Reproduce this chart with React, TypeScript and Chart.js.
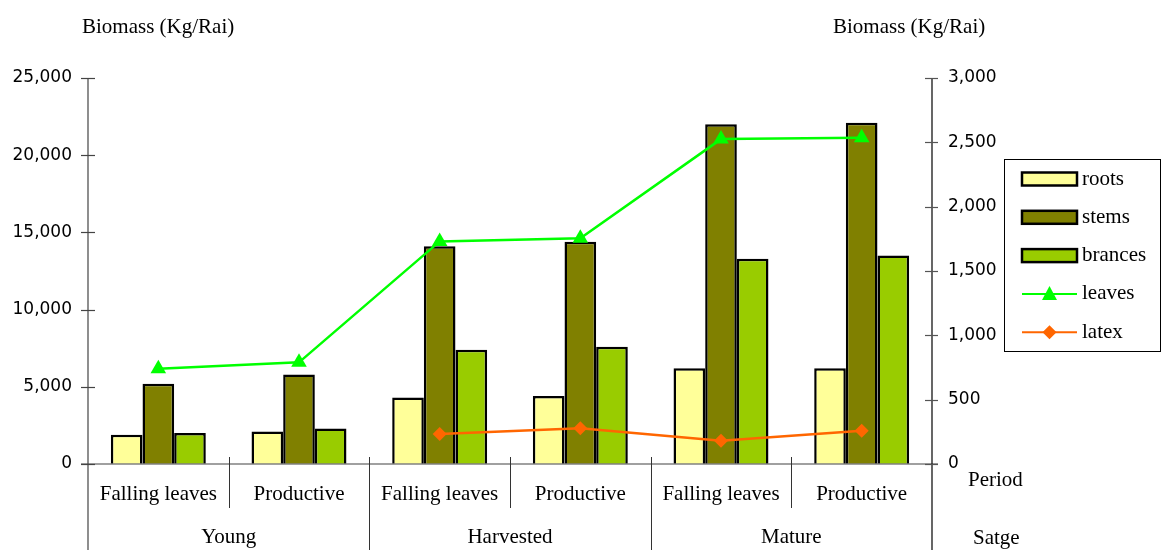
import React, { useEffect, useRef } from "react";
import { Chart, registerables } from "chart.js";

Chart.register(...registerables);

const periods = ["Falling leaves", "Productive", "Falling leaves", "Productive", "Falling leaves", "Productive"];
const stages = ["Young", "Harvested", "Mature"];
const roots = [1900, 2100, 4300, 4400, 6200, 6200];
const stems = [5200, 5800, 14100, 14400, 22000, 22100];
const brances = [2000, 2300, 7400, 7600, 13300, 13500];
const leaves = [740, 790, 1730, 1755, 2525, 2535];
const latex = [null, null, 233, 277, 181, 259];
const leftTicks = [0, 5000, 10000, 15000, 20000, 25000];
const rightTicks = [0, 500, 1000, 1500, 2000, 2500, 3000];

const SERIF = "'Liberation Serif', 'Times New Roman', serif";
const SANS = "'DejaVu Sans', sans-serif";

const legendItems = [
  { label: "roots", type: "bar", color: "#FFFF99" },
  { label: "stems", type: "bar", color: "#808000" },
  { label: "brances", type: "bar", color: "#99CC00" },
  { label: "leaves", type: "line", color: "#00FF00", marker: "triangle" },
  { label: "latex", type: "line", color: "#FF6600", marker: "diamond" },
];

const fmt = (v: number) => v.toLocaleString("en-US");

const overlayPlugin = {
  id: "overlay",
  afterDraw(chart: any) {
    const { ctx, chartArea: ca, scales } = chart;
    const xs = scales.x;
    const yl = scales.y;
    const yr = scales.y1;
    const bottomY = 550;
    ctx.save();
    // bottom axis line
    ctx.strokeStyle = "#808080";
    ctx.lineWidth = 1.5;
    ctx.beginPath();
    ctx.moveTo(ca.left - 7, ca.bottom);
    ctx.lineTo(ca.right + 6, ca.bottom);
    ctx.stroke();
    // left axis
    ctx.strokeStyle = "#444";
    ctx.lineWidth = 1.2;
    ctx.beginPath();
    ctx.moveTo(ca.left, ca.top);
    ctx.lineTo(ca.left, bottomY);
    ctx.stroke();
    leftTicks.forEach((t) => {
      const py = Math.round(yl.getPixelForValue(t)) + 0.5;
      ctx.beginPath();
      ctx.moveTo(ca.left - 7, py);
      ctx.lineTo(ca.left + 7, py);
      ctx.stroke();
    });
    // right axis
    ctx.strokeStyle = "#000";
    ctx.beginPath();
    ctx.moveTo(ca.right, ca.top);
    ctx.lineTo(ca.right, bottomY);
    ctx.stroke();
    ctx.strokeStyle = "#555";
    rightTicks.forEach((t) => {
      const py = Math.round(yr.getPixelForValue(t)) + 0.5;
      ctx.beginPath();
      ctx.moveTo(ca.right - 7, py);
      ctx.lineTo(ca.right + 6, py);
      ctx.stroke();
    });
    // separators
    ctx.strokeStyle = "#333";
    ctx.lineWidth = 1;
    for (let i = 0; i < periods.length - 1; i++) {
      const bx = Math.round((xs.getPixelForValue(i) + xs.getPixelForValue(i + 1)) / 2) + 0.5;
      const isGroup = i % 2 === 1;
      ctx.beginPath();
      ctx.moveTo(bx, ca.bottom - 7);
      ctx.lineTo(bx, isGroup ? bottomY : ca.bottom + 44);
      ctx.stroke();
    }
    // texts
    ctx.fillStyle = "#000";
    ctx.font = `21px ${SERIF}`;
    ctx.textBaseline = "middle";
    ctx.textAlign = "left";
    ctx.fillText("Biomass (Kg/Rai)", 82, 27);
    ctx.fillText("Biomass (Kg/Rai)", 833, 27);
    ctx.fillText("Period", 968, 480);
    ctx.fillText("Satge", 973, 538);
    // legend
    const lx = 1004, ly = 159, lw = 156, lh = 192;
    ctx.strokeStyle = "#000";
    ctx.lineWidth = 1;
    ctx.strokeRect(lx + 0.5, ly + 0.5, lw, lh);
    legendItems.forEach((it, i) => {
      const cy = 179 + i * 38.3;
      if (it.type === "bar") {
        ctx.fillStyle = it.color;
        ctx.fillRect(1022, cy - 6.5, 55, 13);
        ctx.strokeStyle = "#000";
        ctx.lineWidth = 2.5;
        ctx.strokeRect(1022, cy - 6.5, 55, 13);
      } else {
        ctx.strokeStyle = it.color;
        ctx.lineWidth = 2;
        ctx.beginPath();
        ctx.moveTo(1022, cy);
        ctx.lineTo(1077, cy);
        ctx.stroke();
        ctx.fillStyle = it.color;
        ctx.beginPath();
        if (it.marker === "triangle") {
          ctx.moveTo(1049.5, cy - 8);
          ctx.lineTo(1057, cy + 6);
          ctx.lineTo(1042, cy + 6);
        } else {
          ctx.moveTo(1049.5, cy - 7);
          ctx.lineTo(1056.5, cy);
          ctx.lineTo(1049.5, cy + 7);
          ctx.lineTo(1042.5, cy);
        }
        ctx.closePath();
        ctx.fill();
      }
      ctx.fillStyle = "#000";
      ctx.font = `21px ${SERIF}`;
      ctx.textAlign = "left";
      ctx.textBaseline = "middle";
      ctx.fillText(it.label, 1082, cy);
    });
    ctx.restore();
  },
};

export default function App() {
  const ref = useRef<HTMLCanvasElement | null>(null);
  useEffect(() => {
    if (!ref.current) return;
    const barCommon = {
      type: "bar" as const,
      borderColor: "#000",
      borderWidth: 2.5,
      yAxisID: "y",
      xAxisID: "x",
      categoryPercentage: 0.675,
      barPercentage: 1,
      order: 1,
    };
    const chart = new Chart(ref.current, {
      type: "bar",
      data: {
        labels: periods,
        datasets: [
          { ...barCommon, label: "roots", data: roots, backgroundColor: "#FFFF99" },
          { ...barCommon, label: "stems", data: stems, backgroundColor: "#808000" },
          { ...barCommon, label: "brances", data: brances, backgroundColor: "#99CC00" },
          {
            type: "line",
            label: "leaves",
            data: leaves,
            yAxisID: "y1",
            xAxisID: "x",
            borderColor: "#00FF00",
            backgroundColor: "#00FF00",
            borderWidth: 2.5,
            pointStyle: "triangle",
            pointRadius: 9,
            pointBorderWidth: 0,
            tension: 0,
            order: 0,
          },
          {
            type: "line",
            label: "latex",
            data: latex,
            yAxisID: "y1",
            xAxisID: "x",
            borderColor: "#FF6600",
            backgroundColor: "#FF6600",
            borderWidth: 2.5,
            pointStyle: "rectRot",
            pointRadius: 7,
            pointBorderWidth: 0,
            spanGaps: false,
            tension: 0,
            order: 0,
          },
        ] as any,
      },
      options: {
        responsive: false,
        animation: false,
        devicePixelRatio: 1,
        layout: { padding: { top: 78, left: 0, right: 0, bottom: 0 } },
        plugins: { legend: { display: false }, tooltip: { enabled: false }, title: { display: false } },
        scales: {
          x: {
            type: "category",
            position: "bottom",
            offset: true,
            grid: { display: false, drawTicks: false, tickLength: 0 },
            border: { display: false },
            ticks: { color: "#000", font: { family: SERIF, size: 21 }, padding: 18, maxRotation: 0, autoSkip: false },
            afterFit: (s: any) => { s.height = 56; },
          },
          x2: {
            type: "category",
            position: "bottom",
            labels: stages,
            offset: true,
            grid: { display: false, drawTicks: false, tickLength: 0 },
            border: { display: false },
            ticks: { color: "#000", font: { family: SERIF, size: 21 }, padding: 5, maxRotation: 0, autoSkip: false },
            afterFit: (s: any) => { s.height = 30; },
          },
          y: {
            type: "linear",
            position: "left",
            min: 0,
            max: 25000,
            afterBuildTicks: (s: any) => { s.ticks = leftTicks.map((v) => ({ value: v })); },
            grid: { display: false, drawTicks: false, tickLength: 0 },
            border: { display: false },
            ticks: { color: "#000", font: { family: SANS, size: 17 }, padding: 16, callback: (v: any) => fmt(Number(v)) },
            afterFit: (s: any) => { s.width = 88; },
          },
          y1: {
            type: "linear",
            position: "right",
            min: 0,
            max: 3000,
            afterBuildTicks: (s: any) => { s.ticks = rightTicks.map((v) => ({ value: v })); },
            grid: { display: false, drawTicks: false, tickLength: 0 },
            border: { display: false },
            ticks: { color: "#000", font: { family: SANS, size: 17 }, padding: 16, callback: (v: any) => fmt(Number(v)) },
            afterFit: (s: any) => { s.width = 231; },
          },
        },
      } as any,
      plugins: [overlayPlugin],
    });
    return () => chart.destroy();
  }, []);
  return (
    <div style={{ position: "absolute", left: 0, top: 0, width: 1163, height: 550, background: "#fff" }}>
      <canvas ref={ref} width={1163} height={550} style={{ display: "block" }} />
    </div>
  );
}
